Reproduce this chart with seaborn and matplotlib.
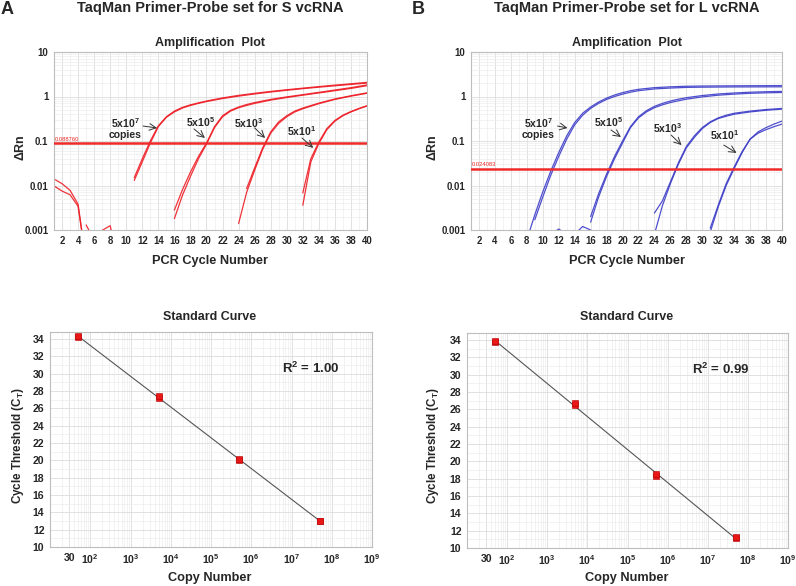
import numpy as np
import pandas as pd
import matplotlib
matplotlib.use("Agg")
import matplotlib.pyplot as plt
import seaborn as sns
from matplotlib.ticker import FixedLocator, FixedFormatter, NullFormatter, LogLocator, MultipleLocator

# ---------------- Amplification data, panel A (S vcRNA) ----------------
A_thr = 0.088760
A_thr_label = "0.088760"

A7_cyc = [11, 12, 13, 14, 15, 16, 17, 18, 19, 20, 22, 24, 26, 28, 30, 32, 34, 36, 38, 40]
A7_a = [0.013, 0.034, 0.09, 0.21, 0.34, 0.45, 0.55, 0.63, 0.7, 0.77, 0.9, 1.02, 1.14, 1.26, 1.38, 1.5, 1.62, 1.74, 1.87, 2.0]
A7_b = [0.015, 0.04, 0.1, 0.22, 0.35, 0.47, 0.57, 0.65, 0.72, 0.79, 0.93, 1.06, 1.18, 1.3, 1.42, 1.54, 1.67, 1.8, 1.93, 2.08]

A5_cyc = [16, 17, 18, 19, 20, 21, 22, 23, 24, 25, 26, 28, 30, 32, 34, 36, 38, 40]
A5_a = [0.0018, 0.006, 0.016, 0.04, 0.085, 0.2, 0.35, 0.47, 0.56, 0.63, 0.7, 0.83, 0.95, 1.07, 1.2, 1.35, 1.52, 1.75]
A5_b = [0.0028, 0.008, 0.02, 0.045, 0.09, 0.21, 0.37, 0.49, 0.58, 0.66, 0.73, 0.86, 0.98, 1.1, 1.24, 1.4, 1.58, 1.82]

A3_cyc = [24, 25, 26, 27, 28, 29, 30, 31, 32, 34, 36, 38, 40]
A3_a = [0.0014, 0.007, 0.022, 0.065, 0.15, 0.25, 0.35, 0.45, 0.53, 0.69, 0.86, 1.02, 1.18]
A3_b_cyc = [25, 26, 27, 28, 29, 30, 31, 32, 34, 36, 38, 40]
A3_b = [0.0085, 0.025, 0.07, 0.16, 0.27, 0.37, 0.47, 0.55, 0.71, 0.88, 1.04, 1.21]

A1_cyc = [32, 33, 34, 35, 36, 37, 38, 39, 40]
A1_a = [0.0036, 0.034, 0.088, 0.18, 0.28, 0.37, 0.45, 0.53, 0.61]
A1_b = [0.0068, 0.04, 0.095, 0.19, 0.29, 0.38, 0.46, 0.54, 0.62]

An1_cyc = [1, 2, 3, 4, 5]
An1 = [0.014, 0.011, 0.0078, 0.0038, 0.0002]
An2 = [0.0098, 0.0075, 0.0062, 0.0034, 0.0002]
An3_cyc = [5, 6]
An3 = [0.0013, 0.0006]
An4_cyc = [7, 8, 9]
An4 = [0.00098, 0.00125, 0.0002]

# ---------------- Amplification data, panel B (L vcRNA) ----------------
B_thr = 0.024083
B_thr_label = "0.024083"

B7_a_cyc = [8, 9, 10, 11, 12, 13, 14, 15, 16, 17, 18, 19, 20, 21, 22, 24, 26, 28, 30, 34, 40]
B7_a = [0.0006, 0.0022, 0.0072, 0.021, 0.055, 0.13, 0.26, 0.42, 0.58, 0.75, 0.92, 1.08, 1.22, 1.35, 1.45, 1.58, 1.65, 1.7, 1.72, 1.74, 1.76]
B7_b_cyc = [9, 10, 11, 12, 13, 14, 15, 16, 17, 18, 19, 20, 21, 22, 24, 26, 28, 30, 34, 40]
B7_b = [0.0017, 0.0055, 0.017, 0.045, 0.11, 0.23, 0.38, 0.54, 0.7, 0.86, 1.0, 1.13, 1.25, 1.35, 1.48, 1.55, 1.6, 1.62, 1.64, 1.65]

B5_cyc = [16, 17, 18, 19, 20, 21, 22, 23, 24, 25, 26, 27, 28, 30, 32, 34, 36, 38, 40]
B5_a = [0.0015, 0.0055, 0.016, 0.04, 0.09, 0.2, 0.33, 0.45, 0.56, 0.65, 0.73, 0.8, 0.87, 0.98, 1.07, 1.13, 1.18, 1.21, 1.23]
B5_b = [0.002, 0.0065, 0.018, 0.045, 0.1, 0.21, 0.35, 0.48, 0.6, 0.7, 0.79, 0.87, 0.94, 1.05, 1.14, 1.2, 1.25, 1.28, 1.3]

B3_cyc = [24, 25, 26, 27, 28, 29, 30, 31, 32, 33, 34, 36, 38, 40]
B3_a = [0.0008, 0.0035, 0.011, 0.03, 0.07, 0.12, 0.19, 0.26, 0.32, 0.36, 0.4, 0.45, 0.49, 0.52]
B3_b = [0.0024, 0.0045, 0.012, 0.032, 0.075, 0.13, 0.2, 0.27, 0.33, 0.38, 0.42, 0.47, 0.51, 0.54]

B1_cyc = [31, 32, 33, 34, 35, 36, 37, 38, 39, 40]
B1_a = [0.0009, 0.0033, 0.01, 0.024, 0.055, 0.11, 0.16, 0.2, 0.24, 0.28]
B1_b = [0.0011, 0.0036, 0.011, 0.026, 0.058, 0.11, 0.15, 0.18, 0.21, 0.24]

Bn1_cyc = [11, 12, 13]
Bn1 = [0.0008, 0.00105, 0.0008]
Bn2_cyc = [14, 15, 16, 17]
Bn2 = [0.0008, 0.0012, 0.001, 0.0006]

# ---------------- Standard curves ----------------
copies = [5e1, 5e1, 5e3, 5e3, 5e5, 5e5, 5e7, 5e7]
ct_A = [34.2, 34.3, 27.2, 27.45, 20.0, 20.2, 12.95, 13.05]
ct_B = [33.8, 33.85, 26.5, 26.7, 18.3, 18.5, 11.1, 11.25]
r2_A = "1.00"
r2_B = "0.99"

amp_xticks = list(range(2, 41, 2))
amp_yticks = [0.001, 0.01, 0.1, 1, 10]
amp_ylabels = ["0.001", "0.01", "0.1", "1", "10"]
std_xticks = [30, 1e2, 1e3, 1e4, 1e5, 1e6, 1e7, 1e8, 1e9]
std_xlabels = ["30", "10$^{2}$", "10$^{3}$", "10$^{4}$", "10$^{5}$", "10$^{6}$", "10$^{7}$", "10$^{8}$", "10$^{9}$"]
std_yticks = list(range(10, 35, 2))

dil_labels = ["5x10$^{7}$\ncopies", "5x10$^{5}$", "5x10$^{3}$", "5x10$^{1}$"]

# ---------------- style ----------------
sns.set_theme(style="white")
plt.rcParams["font.family"] = ["Liberation Sans", "DejaVu Sans"]
plt.rcParams["font.weight"] = "bold"
plt.rcParams["mathtext.fontset"] = "custom"
plt.rcParams["mathtext.rm"] = "Liberation Sans:bold"
plt.rcParams["mathtext.it"] = "Liberation Sans:bold"
plt.rcParams["mathtext.bf"] = "Liberation Sans:bold"
plt.rcParams["mathtext.default"] = "rm"

W, H = 796, 586
fig = plt.figure(figsize=(W / 100, H / 100), dpi=100)


def fx(px):
    return px / W


def fy(py):
    return 1 - py / H


def make_df(curves):
    rows = []
    for name, cyc, val in curves:
        for c, v in zip(cyc, val):
            rows.append((name, c, v))
    return pd.DataFrame(rows, columns=["rep", "cycle", "dRn"])


def style_common(ax, tick_size):
    for s in ax.spines.values():
        s.set_color("#bdbdbd")
        s.set_linewidth(0.8)
    ax.set_axisbelow(True)
    ax.tick_params(which="major", length=2, color="#999999", labelsize=tick_size, pad=2)
    ax.tick_params(which="minor", length=0)
    for lab in ax.get_xticklabels() + ax.get_yticklabels():
        lab.set_fontweight("bold")
    ax.set_xlabel("")
    ax.set_ylabel("")


def amp_panel(ax, curves, color, thr, thr_label, ann):
    df = make_df(curves)
    ax.set_yscale("log")
    sns.lineplot(data=df, x="cycle", y="dRn", units="rep", estimator=None,
                 color=color, lw=0.9, alpha=0.9, ax=ax, legend=False, sort=False)
    ax.set_xlim(1, 40)
    ax.set_ylim(0.001, 10)
    ax.axhline(thr, color="#ee2a2a", lw=1.8, zorder=3)
    ax.text(1.05, thr * 1.08, thr_label, color="#ee2a2a", fontsize=4.2,
            fontweight="normal", ha="left", va="bottom")
    ax.xaxis.set_major_locator(FixedLocator(amp_xticks))
    ax.xaxis.set_minor_locator(MultipleLocator(1))
    ax.yaxis.set_major_locator(FixedLocator(amp_yticks))
    ax.yaxis.set_major_formatter(FixedFormatter(amp_ylabels))
    ax.yaxis.set_minor_locator(LogLocator(base=10, subs=np.arange(2, 10)))
    ax.yaxis.set_minor_formatter(NullFormatter())
    ax.grid(which="major", color="#dcdcdc", lw=0.6)
    ax.grid(which="minor", color="#ededed", lw=0.5)
    style_common(ax, 6.9)
    for lab, (tx, ty), (sx, sy), (ex, ey) in zip(dil_labels, *ann):
        ax.text(tx, ty, lab, ha="center", va="center", fontsize=7.5,
                fontweight="bold", linespacing=1.0, zorder=5)
        ax.annotate("", xy=(ex, ey), xytext=(sx, sy),
                    arrowprops=dict(arrowstyle="->", color="#333333", lw=0.7,
                                    shrinkA=0, shrinkB=0), zorder=5)


def std_panel(ax, ct, r2, r2pos):
    ax.set_xscale("log")
    sns.regplot(x=np.array(copies), y=np.array(ct), logx=True, ci=None, ax=ax,
                marker="s", color="#e81818",
                scatter_kws=dict(s=22, edgecolor="#b40000", linewidths=0.4, zorder=4, alpha=1),
                line_kws=dict(color="#555555", lw=0.8, zorder=3))
    ax.set_xlim(10, 1e9)
    ax.set_ylim(10, 34.8)
    ax.xaxis.set_major_locator(FixedLocator(std_xticks))
    ax.xaxis.set_major_formatter(FixedFormatter(std_xlabels))
    ax.xaxis.set_minor_locator(LogLocator(base=10, subs=np.arange(2, 10)))
    ax.xaxis.set_minor_formatter(NullFormatter())
    ax.yaxis.set_major_locator(FixedLocator(std_yticks))
    ax.yaxis.set_minor_locator(MultipleLocator(1))
    ax.grid(which="major", color="#dcdcdc", lw=0.6)
    ax.grid(which="minor", color="#ededed", lw=0.5)
    style_common(ax, 7.6)
    ax.text(r2pos[0], r2pos[1], "R$^{2}$ = " + r2, transform=ax.transAxes,
            ha="center", va="center", fontsize=9.5, fontweight="bold")


# ---- Panel A amplification ----
axA = fig.add_axes([fx(54), fy(230), fx(367 - 54), 178 / H])
curvesA = [("a7a", A7_cyc, A7_a), ("a7b", A7_cyc, A7_b),
           ("a5a", A5_cyc, A5_a), ("a5b", A5_cyc, A5_b),
           ("a3a", A3_cyc, A3_a), ("a3b", A3_b_cyc, A3_b),
           ("a1a", A1_cyc, A1_a), ("a1b", A1_cyc, A1_b),
           ("an1", An1_cyc, An1), ("an2", An1_cyc, An2),
           ("an3", An3_cyc, An3), ("an4", An4_cyc, An4)]
annA = ([(9.85, 0.19), (19.2, 0.267), (25.2, 0.254), (31.9, 0.168)],
        [(12.1, 0.217), (18.45, 0.186), (26.0, 0.197), (31.9, 0.117)],
        [(13.85, 0.196), (19.8, 0.117), (27.3, 0.117), (33.3, 0.07)])
amp_panel(axA, curvesA, "#ee1c24", A_thr, A_thr_label, annA)

# ---- Panel B amplification ----
axB = fig.add_axes([fx(471), fy(230), fx(782 - 471), 178 / H])
curvesB = [("b7a", B7_a_cyc, B7_a), ("b7b", B7_b_cyc, B7_b),
           ("b5a", B5_cyc, B5_a), ("b5b", B5_cyc, B5_b),
           ("b3a", B3_cyc, B3_a), ("b3b", B3_cyc, B3_b),
           ("b1a", B1_cyc, B1_a), ("b1b", B1_cyc, B1_b),
           ("bn1", Bn1_cyc, Bn1), ("bn2", Bn2_cyc, Bn2)]
annB = ([(9.45, 0.19), (18.3, 0.267), (25.7, 0.193), (32.8, 0.136)],
        [(11.85, 0.217), (18.55, 0.177), (26.1, 0.136), (32.7, 0.081)],
        [(13.1, 0.196), (19.8, 0.123), (27.4, 0.081), (34.3, 0.054)])
amp_panel(axB, curvesB, "#3c3cc8", B_thr, B_thr_label, annB)

# ---- Standard curves ----
sA = fig.add_axes([fx(50), fy(547), fx(322), 215 / H])
std_panel(sA, ct_A, r2_A, (0.81, 0.83))
sB = fig.add_axes([fx(467), fy(548), fx(321), 215 / H])
std_panel(sB, ct_B, r2_B, (0.79, 0.83))

# ---- figure texts ----
fig.text(fx(7), fy(9), "A", fontsize=13, fontweight="bold", ha="center", va="center")
fig.text(fx(418), fy(9), "B", fontsize=13, fontweight="bold", ha="center", va="center")
fig.text(fx(210), fy(8), "TaqMan Primer-Probe set for S vcRNA", fontsize=10.5,
         fontweight="bold", ha="center", va="center")
fig.text(fx(627), fy(8), "TaqMan Primer-Probe set for L vcRNA", fontsize=10.5,
         fontweight="bold", ha="center", va="center")
for cx in (210, 627):
    fig.text(fx(cx), fy(43), "Amplification  Plot", fontsize=9, fontweight="bold",
             ha="center", va="center")
    fig.text(fx(cx), fy(261), "PCR Cycle Number", fontsize=9.2, fontweight="bold",
             ha="center", va="center")
    fig.text(fx(cx), fy(317), "Standard Curve", fontsize=9, fontweight="bold",
             ha="center", va="center")
    fig.text(fx(cx), fy(578), "Copy Number", fontsize=9.2, fontweight="bold",
             ha="center", va="center")
for lx in (20, 433):
    fig.text(fx(lx), fy(147), "ΔRn", fontsize=9, fontweight="bold", rotation=90,
             ha="center", va="center")
for lx in (18, 433):
    fig.text(fx(lx), fy(446), "Cycle Threshold (C$_{T}$)", fontsize=8.4,
             fontweight="bold", rotation=90, ha="center", va="center")

fig.savefig("out.png", dpi=100)
